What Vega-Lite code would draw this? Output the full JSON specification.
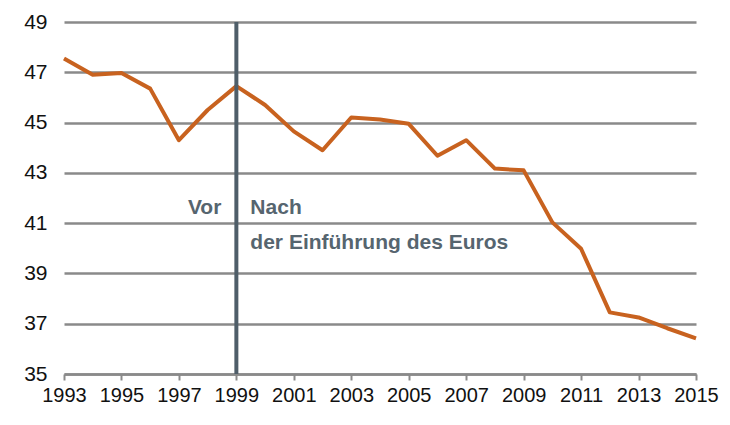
{
  "$schema": "https://vega.github.io/schema/vega-lite/v6.json",
  "width": 632,
  "height": 352,
  "autosize": {"type": "none"},
  "padding": {"left": 64, "top": 22, "right": 34, "bottom": 51},
  "background": "white",
  "config": {
    "view": {"stroke": null},
    "font": "Liberation Sans"
  },
  "layer": [
    {
      "data": {
        "values": [
          {"jahr": 1993, "wert": 47.55},
          {"jahr": 1994, "wert": 46.9},
          {"jahr": 1995, "wert": 46.97},
          {"jahr": 1996, "wert": 46.35},
          {"jahr": 1997, "wert": 44.3},
          {"jahr": 1998, "wert": 45.5},
          {"jahr": 1999, "wert": 46.45},
          {"jahr": 2000, "wert": 45.7},
          {"jahr": 2001, "wert": 44.65},
          {"jahr": 2002, "wert": 43.9},
          {"jahr": 2003, "wert": 45.2},
          {"jahr": 2004, "wert": 45.12},
          {"jahr": 2005, "wert": 44.95},
          {"jahr": 2006, "wert": 43.68},
          {"jahr": 2007, "wert": 44.3},
          {"jahr": 2008, "wert": 43.17},
          {"jahr": 2009, "wert": 43.1},
          {"jahr": 2010, "wert": 41.03},
          {"jahr": 2011, "wert": 39.98},
          {"jahr": 2012, "wert": 37.45},
          {"jahr": 2013, "wert": 37.25},
          {"jahr": 2014, "wert": 36.82},
          {"jahr": 2015, "wert": 36.42}
        ]
      },
      "mark": {"type": "line", "color": "#c8621f", "strokeWidth": 4, "strokeJoin": "round"},
      "encoding": {
        "x": {
          "field": "jahr",
          "type": "quantitative",
          "scale": {"domain": [1993, 2015], "nice": false, "zero": false},
          "axis": {
            "title": null,
            "values": [1993, 1995, 1997, 1999, 2001, 2003, 2005, 2007, 2009, 2011, 2013, 2015],
            "format": "d",
            "grid": false,
            "domainColor": "#8a8a8a",
            "domainWidth": 2.5,
            "tickColor": "#8a8a8a",
            "tickWidth": 2,
            "tickSize": 6,
            "labelFontSize": 20,
            "labelColor": "#111111",
            "labelPadding": 5,
            "labelFlush": false
          }
        },
        "y": {
          "field": "wert",
          "type": "quantitative",
          "scale": {"domain": [35, 49], "nice": false, "zero": false},
          "axis": {
            "title": null,
            "values": [35, 37, 39, 41, 43, 45, 47, 49],
            "domain": false,
            "ticks": false,
            "grid": true,
            "gridColor": "#8a8a8a",
            "gridWidth": 2.5,
            "labelFontSize": 21,
            "labelColor": "#111111",
            "labelPadding": 17
          }
        }
      }
    },
    {
      "data": {"values": [{"jahr": 1999}]},
      "mark": {"type": "rule", "color": "#4f5e69", "strokeWidth": 4},
      "encoding": {
        "x": {"field": "jahr", "type": "quantitative"}
      }
    },
    {
      "data": {
        "values": [
          {"jahr": 1999, "wert": 41.6, "text": "Vor"}
        ]
      },
      "mark": {"type": "text", "align": "right", "baseline": "middle", "dx": -15, "fontSize": 21, "fontWeight": "bold", "color": "#56656f"},
      "encoding": {
        "x": {"field": "jahr", "type": "quantitative"},
        "y": {"field": "wert", "type": "quantitative"},
        "text": {"field": "text"}
      }
    },
    {
      "data": {
        "values": [
          {"jahr": 1999, "wert": 41.6, "text": "Nach"},
          {"jahr": 1999, "wert": 40.2, "text": "der Einführung des Euros"}
        ]
      },
      "mark": {"type": "text", "align": "left", "baseline": "middle", "dx": 14, "fontSize": 21, "fontWeight": "bold", "color": "#56656f"},
      "encoding": {
        "x": {"field": "jahr", "type": "quantitative"},
        "y": {"field": "wert", "type": "quantitative"},
        "text": {"field": "text"}
      }
    }
  ]
}
